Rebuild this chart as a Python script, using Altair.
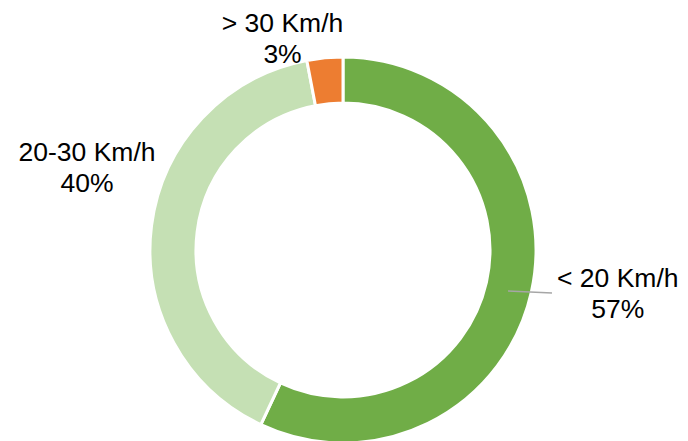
import altair as alt
import pandas as pd

categories = ["< 20 Km/h", "20-30 Km/h", "> 30 Km/h"]
shares = [57, 40, 3]
colors = ["#70AD47", "#C5E0B4", "#ED7D31"]

df = pd.DataFrame({
    "cat": categories,
    "share": shares,
    "order": list(range(len(categories))),
})
df["label"] = df["cat"] + "\n" + df["share"].astype(str) + "%"

CX, CY = 335, 242

base = alt.Chart(df).encode(
    theta=alt.Theta("share:Q", stack=True),
    order=alt.Order("order:Q"),
    x=alt.value(CX),
    y=alt.value(CY),
)

arc = base.mark_arc(radius=193, radius2=147, stroke="white", strokeWidth=3).encode(
    color=alt.Color("cat:N", scale=alt.Scale(domain=categories, range=colors), legend=None)
)

offsets = {"< 20 Km/h": (21, -20), "20-30 Km/h": (2, -56), "> 30 Km/h": (-36, 41)}
texts = []
for c in categories:
    dx, dy = offsets[c]
    texts.append(
        base.mark_text(
            radius=260, dx=dx, dy=dy, font="Liberation Sans", fontSize=26.5,
            lineHeight=31, lineBreak="\n", align="center", baseline="alphabetic",
            color="black",
        ).encode(
            text=alt.Text("label:N"),
            opacity=alt.condition(alt.datum.cat == c, alt.value(1), alt.value(0)),
        )
    )

leader = alt.Chart(df).transform_filter(alt.datum.order == 0).mark_rule(
    color="#A6A6A6", strokeWidth=1.5
).encode(x=alt.value(500), y=alt.value(283), x2=alt.value(544), y2=alt.value(285))

chart = alt.layer(arc, leader, *texts).properties(
    width=672, height=433, autosize=alt.AutoSizeParams(type="none"), padding=0
).configure_view(stroke=None)

chart.save("out.html", embed_options={"renderer": "svg", "actions": False})
